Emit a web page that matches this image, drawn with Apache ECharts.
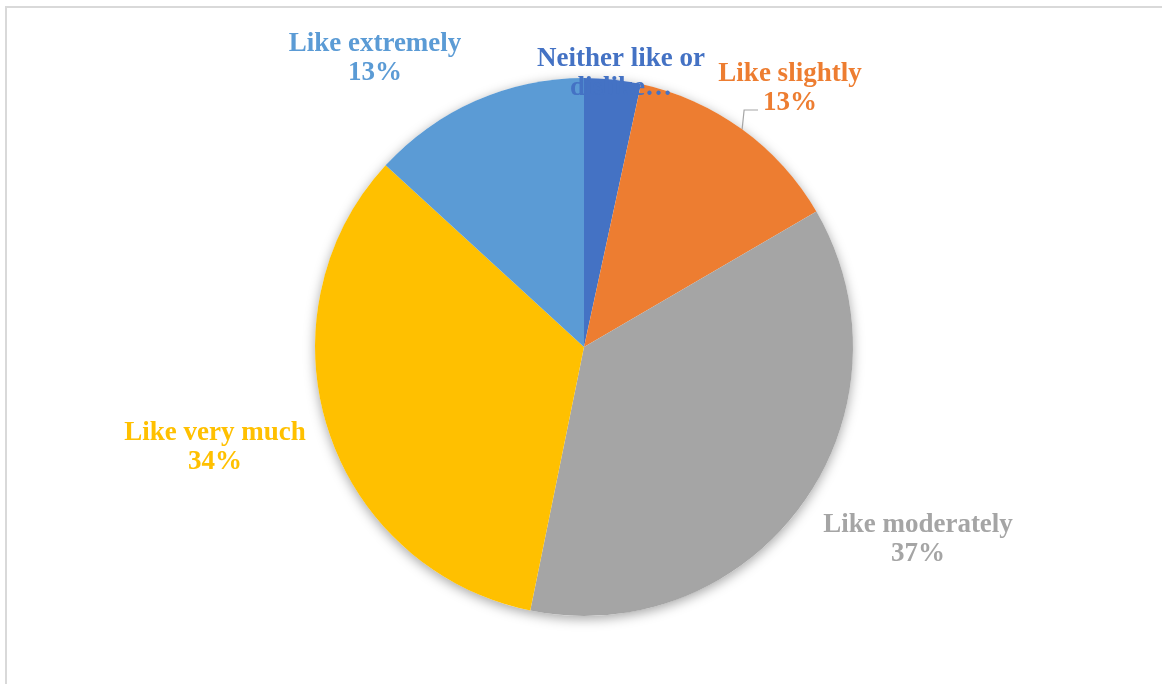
<!DOCTYPE html>
<html>
<head>
<meta charset="utf-8">
<title>Liking ratings</title>
<script src="https://cdn.jsdelivr.net/npm/echarts@6/dist/echarts.min.js"></script>
<style>
  html, body { margin: 0; padding: 0; background: #ffffff; }
  #chart { width: 1162px; height: 684px; }
</style>
</head>
<body>
<div id="chart"></div>
<script>
// Rating categories, clockwise from 12 o'clock
const categories = [
  'Neither like or dislike',
  'Like slightly',
  'Like moderately',
  'Like very much',
  'Like extremely'
];
// Share of responses (%)
const shares = [3.4, 13.2, 36.6, 33.6, 13.2];

// Slice colours (Office palette)
const sliceColors = ['#4472C4', '#ED7D31', '#A5A5A5', '#FFC000', '#5B9BD5'];
// Where each label block is centred, in px
const labelSpots = [[621, 74], [790, 89], [918, 540], [215, 448], [375, 59]];

const PIE_CENTER = [584, 347];
const PIE_RADIUS = 269;
const LABEL_FONT = '"Liberation Serif", "Times New Roman", serif';

const chart = echarts.init(document.getElementById('chart'), null, { renderer: 'canvas' });

const pieData = categories.map((name, i) => ({
  name: name,
  value: shares[i],
  itemStyle: { color: sliceColors[i] },
  label: { color: sliceColors[i] },
  labelLine: { show: i === 1 }
}));

chart.setOption({
  animation: false,
  backgroundColor: '#ffffff',
  graphic: [{
    type: 'rect',
    silent: true,
    z: -10,
    shape: { x: 6, y: 7, width: 1300, height: 800 },
    style: { fill: 'none', stroke: '#d9d9d9', lineWidth: 2 }
  }],
  series: [
    {
      // soft drop shadow under the whole pie
      type: 'pie',
      silent: true,
      z: 1,
      center: PIE_CENTER,
      radius: PIE_RADIUS,
      label: { show: false },
      labelLine: { show: false },
      itemStyle: {
        color: '#ffffff',
        shadowBlur: 12,
        shadowColor: 'rgba(0,0,0,0.35)',
        shadowOffsetY: 3
      },
      data: [{ value: 1, name: '' }]
    },
    {
      type: 'pie',
      z: 2,
      center: PIE_CENTER,
      radius: PIE_RADIUS,
      startAngle: 90,
      clockwise: true,
      avoidLabelOverlap: false,
      percentPrecision: 1,
      itemStyle: { borderWidth: 0 },
      label: {
        show: true,
        position: 'outside',
        fontFamily: LABEL_FONT,
        fontWeight: 'bold',
        fontSize: 27,
        lineHeight: 29,
        align: 'center',
        formatter: function (p) {
          if (p.dataIndex === 0) return 'Neither like or\ndislike\u2026';
          return p.name + '\n' + Math.round(p.percent) + '%';
        }
      },
      labelLine: {
        show: false,
        length: 6,
        length2: 12,
        lineStyle: { color: '#a6a6a6', width: 1.2 }
      },
      labelLayout: function (params) {
        const s = labelSpots[params.dataIndex];
        const out = { x: s[0], y: s[1], align: 'center', verticalAlign: 'middle' };
        const pts = params.labelLinePoints;
        if (pts && pts.length) {
          // leader: rise from the rim, then run right to the value line
          const start = pts[0];
          out.labelLinePoints = [
            [start[0], start[1]],
            [start[0] + 2, s[1] + 21],
            [s[0] - 32, s[1] + 21]
          ];
        }
        return out;
      },
      data: pieData
    }
  ]
});
</script>
</body>
</html>
